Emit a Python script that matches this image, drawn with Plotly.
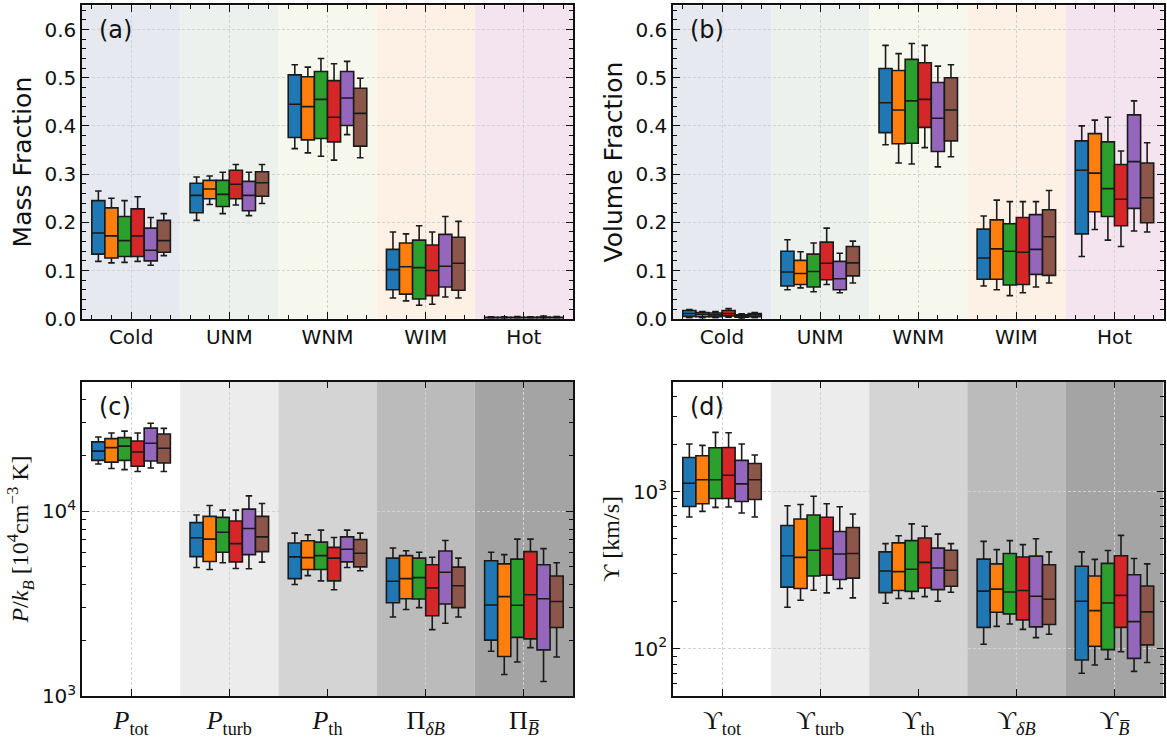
import plotly.graph_objects as go

# ---------------- data ----------------
phases = ["Cold", "UNM", "WNM", "WIM", "Hot"]
p_labels = ["<i>P</i><sub>tot</sub>", "<i>P</i><sub>turb</sub>", "<i>P</i><sub>th</sub>",
            "Π<sub><i>δB</i></sub>", "Π<sub><i>B̅</i></sub>"]
u_labels = ["ϒ<sub>tot</sub>", "ϒ<sub>turb</sub>", "ϒ<sub>th</sub>",
            "ϒ<sub><i>δB</i></sub>", "ϒ<sub><i>B̅</i></sub>"]
series_colors = ["#1f77b4", "#ff7f0e", "#2ca02c", "#d62728", "#9467bd", "#8c564b"]

p_ticks = [1000, 10000]
p_ticktext = ["10<sup>3</sup>", "10<sup>4</sup>"]
u_ticks = [100, 1000]
u_ticktext = ["10<sup>2</sup>", "10<sup>3</sup>"]

# rows = categories, columns = 6 series
mass_lo = [[0.119, 0.116, 0.117, 0.119, 0.111, 0.131],
           [0.204, 0.237, 0.218, 0.236, 0.214, 0.239],
           [0.353, 0.344, 0.337, 0.329, 0.382, 0.334],
           [0.043, 0.037, 0.028, 0.030, 0.045, 0.043],
           [0.0008, 0.0008, 0.0009, 0.0008, 0.0010, 0.0009]]
mass_q1 = [[0.134, 0.126, 0.129, 0.129, 0.120, 0.138],
           [0.220, 0.249, 0.233, 0.249, 0.224, 0.254],
           [0.376, 0.371, 0.374, 0.367, 0.401, 0.358],
           [0.060, 0.051, 0.041, 0.048, 0.066, 0.059],
           [0.0015, 0.0016, 0.0017, 0.0015, 0.0018, 0.0016]]
mass_med = [[0.178, 0.172, 0.162, 0.172, 0.142, 0.162],
            [0.256, 0.269, 0.258, 0.279, 0.256, 0.282],
            [0.445, 0.440, 0.455, 0.418, 0.458, 0.426],
            [0.102, 0.108, 0.106, 0.100, 0.109, 0.115],
            [0.0022, 0.0023, 0.0024, 0.0022, 0.0026, 0.0023]]
mass_q3 = [[0.245, 0.230, 0.212, 0.228, 0.188, 0.204],
           [0.281, 0.287, 0.287, 0.308, 0.285, 0.305],
           [0.506, 0.502, 0.513, 0.494, 0.513, 0.478],
           [0.144, 0.157, 0.163, 0.153, 0.175, 0.169],
           [0.0030, 0.0031, 0.0032, 0.0030, 0.0036, 0.0031]]
mass_hi = [[0.265, 0.250, 0.245, 0.253, 0.210, 0.218],
           [0.294, 0.296, 0.304, 0.320, 0.304, 0.320],
           [0.527, 0.522, 0.540, 0.529, 0.534, 0.499],
           [0.180, 0.176, 0.193, 0.180, 0.212, 0.202],
           [0.0040, 0.0042, 0.0044, 0.0041, 0.0055, 0.0043]]

vol_lo = [[0.002, 0.002, 0.002, 0.003, 0.001, 0.002],
          [0.060, 0.064, 0.056, 0.071, 0.054, 0.074],
          [0.361, 0.323, 0.321, 0.355, 0.315, 0.336],
          [0.068, 0.060, 0.048, 0.054, 0.066, 0.074],
          [0.129, 0.185, 0.163, 0.150, 0.182, 0.180]]
vol_q1 = [[0.005, 0.004, 0.004, 0.006, 0.003, 0.004],
          [0.068, 0.071, 0.066, 0.081, 0.060, 0.089],
          [0.386, 0.363, 0.364, 0.397, 0.347, 0.369],
          [0.082, 0.082, 0.070, 0.071, 0.092, 0.090],
          [0.176, 0.222, 0.212, 0.193, 0.229, 0.199]]
vol_med = [[0.011, 0.009, 0.008, 0.011, 0.006, 0.008],
           [0.097, 0.094, 0.098, 0.115, 0.083, 0.116],
           [0.448, 0.433, 0.452, 0.455, 0.416, 0.433],
           [0.126, 0.145, 0.140, 0.138, 0.144, 0.170],
           [0.308, 0.302, 0.270, 0.248, 0.326, 0.251]]
vol_q3 = [[0.017, 0.013, 0.012, 0.017, 0.008, 0.011],
          [0.140, 0.121, 0.134, 0.159, 0.119, 0.150],
          [0.519, 0.515, 0.538, 0.531, 0.490, 0.500],
          [0.186, 0.205, 0.197, 0.210, 0.216, 0.226],
          [0.369, 0.384, 0.367, 0.320, 0.423, 0.323]]
vol_hi = [[0.019, 0.015, 0.015, 0.021, 0.010, 0.013],
          [0.164, 0.139, 0.157, 0.188, 0.136, 0.161],
          [0.567, 0.550, 0.571, 0.567, 0.524, 0.527],
          [0.213, 0.246, 0.243, 0.243, 0.243, 0.266],
          [0.400, 0.412, 0.418, 0.348, 0.452, 0.365]]

pres_lo = [[17970, 16980, 16750, 16360, 17100, 16360],
           [4960, 4840, 5260, 4900, 4880, 5300],
           [4010, 4480, 4200, 3760, 4960, 4760],
           [2680, 2940, 3010, 2290, 2480, 2680],
           [1750, 1310, 1530, 1830, 1200, 1630]]
pres_q1 = [[18790, 18400, 18790, 17470, 18640, 18190],
           [5680, 5340, 5990, 5320, 5820, 6040],
           [4320, 4840, 4840, 4200, 5320, 5000],
           [3200, 3360, 3350, 2720, 3150, 3010],
           [2010, 1640, 2080, 2040, 1780, 2350]]
pres_med = [[21080, 22030, 22440, 20840, 23270, 21870],
            [7180, 7060, 7690, 6670, 8050, 7260],
            [5660, 5610, 5750, 5570, 6220, 5920],
            [4180, 4320, 4370, 3850, 4670, 3950],
            [3110, 3450, 3100, 3530, 3360, 3250]]
pres_q3 = [[23650, 24620, 24940, 23930, 28070, 26080],
           [8670, 9370, 9250, 8850, 10250, 9370],
           [6720, 6920, 6800, 6370, 7260, 7030],
           [5570, 5750, 5570, 5130, 6090, 4980],
           [5390, 5190, 5500, 6040, 5130, 4460]]
pres_hi = [[25130, 26400, 27050, 26400, 29850, 27990],
           [9530, 10720, 10120, 10120, 12080, 10990],
           [7600, 7450, 7890, 7200, 7890, 7600],
           [6320, 6110, 5990, 5630, 6940, 5570],
           [5990, 5820, 7060, 7060, 6270, 5260]]

ups_lo = [[690, 749, 794, 798, 731, 690],
          [184, 204, 236, 227, 242, 211],
          [195, 209, 209, 215, 201, 229],
          [107, 139, 144, 133, 118, 124],
          [70, 79, 86, 96, 72, 82]]
ups_q1 = [[805, 837, 904, 904, 866, 891],
          [247, 242, 291, 294, 276, 282],
          [228, 235, 232, 244, 238, 250],
          [137, 171, 167, 153, 138, 143],
          [85, 104, 99, 137, 87, 106]]
ups_med = [[1130, 1190, 1190, 1270, 1120, 1190],
           [391, 382, 424, 435, 401, 404],
           [313, 310, 321, 355, 327, 316],
           [233, 240, 230, 235, 216, 207],
           [201, 175, 196, 219, 149, 172]]
ups_q3 = [[1650, 1690, 1900, 1910, 1580, 1510],
          [609, 670, 710, 687, 558, 592],
          [414, 472, 488, 507, 437, 424],
          [372, 347, 404, 384, 389, 343],
          [335, 291, 350, 391, 296, 251]]
ups_hi = [[2010, 1970, 2380, 2370, 2010, 1710],
          [813, 829, 935, 837, 801, 721],
          [467, 524, 624, 603, 537, 467],
          [483, 428, 488, 460, 502, 414],
          [414, 371, 422, 527, 376, 347]]

phase_band_colors = ["#e7e9f1", "#edf1ed", "#f6f7ed", "#fdf1e6", "#f3e4ef"]
gray_band_colors = ["#ffffff", "#ececec", "#d4d4d4", "#bbbbbb", "#a4a4a4"]

# ---------------- figure ----------------
FONT = "DejaVu Sans"
SERIF = "Liberation Serif"
W, H = 1167, 740
n_series = 6
box_w = 0.8 / n_series
offsets = [-0.4 + box_w * (s + 0.5) for s in range(n_series)]

fig = go.Figure()

panels = [
    ("", mass_lo, mass_q1, mass_med, mass_q3, mass_hi),
    ("2", vol_lo, vol_q1, vol_med, vol_q3, vol_hi),
    ("3", pres_lo, pres_q1, pres_med, pres_q3, pres_hi),
    ("4", ups_lo, ups_q1, ups_med, ups_q3, ups_hi),
]

for ax, lo, q1, med, q3, hi in panels:
    ncat = len(lo)
    for s in range(n_series):
        fig.add_trace(go.Box(
            x=[c + offsets[s] for c in range(ncat)],
            lowerfence=[lo[c][s] for c in range(ncat)],
            q1=[q1[c][s] for c in range(ncat)],
            median=[med[c][s] for c in range(ncat)],
            q3=[q3[c][s] for c in range(ncat)],
            upperfence=[hi[c][s] for c in range(ncat)],
            width=box_w,
            whiskerwidth=0.5,
            fillcolor=series_colors[s],
            line=dict(color="#1a1a1a", width=1.6),
            boxpoints=False,
            hoverinfo="skip",
            showlegend=False,
            xaxis="x" + ax, yaxis="y" + ax,
        ))

# background bands
for ax, colors in [("", phase_band_colors), ("2", phase_band_colors),
                   ("3", gray_band_colors), ("4", gray_band_colors)]:
    for i, col in enumerate(colors):
        fig.add_shape(type="rect", xref="x" + ax, yref=("y" + ax + " domain"),
                      x0=i - 0.5, x1=i + 0.5, y0=0, y1=1,
                      fillcolor=col, line=dict(width=0), layer="below")

xdom_l = [82 / W, 573 / W]
xdom_r = [673 / W, 1163.5 / W]
ydom_t = [(H - 324) / H, (H - 5.5) / H]
ydom_b = [(H - 707.7) / H, (H - 388) / H]

common_axis = dict(
    showline=True, linecolor="#111111", linewidth=1.5, mirror="ticks",
    ticks="inside", ticklen=7, tickwidth=1.3, tickcolor="#111111",
    showgrid=True, gridcolor="#d2d2d2", gridwidth=0.8, griddash="3px,2px",
    zeroline=False,
)


def xaxis(dom, anchor, labels, serif):
    d = dict(
        domain=dom, anchor=anchor, range=[-0.5, 4.5],
        tickmode="array", tickvals=list(range(len(labels))), ticktext=labels,
        tickfont=dict(family=SERIF if serif else FONT, size=26 if serif else 20, color="#111"),
        **common_axis,
    )
    if not serif:
        d["minor"] = dict(ticks="inside", ticklen=4, tickwidth=1.1, tickcolor="#111111",
                          tickmode="linear", tick0=0, dtick=0.2, showgrid=False)
    return d


def lin_yaxis(dom, anchor, title):
    return dict(
        domain=dom, anchor=anchor, range=[0, 0.65],
        tickmode="linear", tick0=0, dtick=0.1, tickformat=".1f",
        tickfont=dict(family=FONT, size=20, color="#111"),
        title=dict(text=title, font=dict(family=FONT, size=25, color="#111"), standoff=6),
        minor=dict(ticks="inside", ticklen=4, tickwidth=1.1, tickcolor="#111111",
                   tickmode="linear", tick0=0, dtick=0.02, showgrid=False),
        **common_axis,
    )


def log_yaxis(dom, anchor, title, ticks, ticktext, lo_dec, hi_dec, rng):
    minors = [m * 10 ** d for d in range(lo_dec, hi_dec + 1) for m in range(2, 10)]
    return dict(
        domain=dom, anchor=anchor, type="log", range=rng,
        tickmode="array", tickvals=ticks, ticktext=ticktext,
        tickfont=dict(family=FONT, size=20, color="#111"),
        title=dict(text=title, font=dict(family=SERIF, size=24, color="#111"), standoff=6),
        minor=dict(ticks="inside", ticklen=4, tickwidth=1.1, tickcolor="#111111",
                   tickmode="array", tickvals=minors, showgrid=False),
        **common_axis,
    )


fig.update_layout(
    width=W, height=H,
    margin=dict(l=0, r=0, t=0, b=0),
    paper_bgcolor="white", plot_bgcolor="white",
    boxmode="overlay",
    font=dict(family=FONT, color="#111"),
    xaxis=xaxis(xdom_l, "y", phases, False),
    xaxis2=xaxis(xdom_r, "y2", phases, False),
    xaxis3=xaxis(xdom_l, "y3", p_labels, True),
    xaxis4=xaxis(xdom_r, "y4", u_labels, True),
    yaxis=lin_yaxis(ydom_t, "x", "Mass Fraction"),
    yaxis2=lin_yaxis(ydom_t, "x2", "Volume Fraction"),
    yaxis3=log_yaxis(ydom_b, "x3",
                     "<i>P</i>/<i>k</i><sub><i>B</i></sub> [10<sup>4</sup>cm<sup>−3</sup> K]",
                     p_ticks, p_ticktext, 3, 4, [3, 4.699]),
    yaxis4=log_yaxis(ydom_b, "x4", "ϒ [km/s]", u_ticks, u_ticktext, 1, 3, [1.699, 3.699]),
)

for ax, lab in [("", "(a)"), ("2", "(b)"), ("3", "(c)"), ("4", "(d)")]:
    fig.add_annotation(text=lab, xref="x" + ax + " domain", yref="y" + ax + " domain",
                       x=0.03, y=0.92, xanchor="left", yanchor="middle",
                       showarrow=False, font=dict(family=FONT, size=24, color="#111"))

fig.write_html("out.html", config={"displayModeBar": False})

# remove the default page margin so the figure sits at the window origin
with open("out.html", "r", encoding="utf-8") as f:
    html = f.read()
html = html.replace("<head>", "<head><style>html,body{margin:0;padding:0;overflow:hidden;}</style>", 1)
with open("out.html", "w", encoding="utf-8") as f:
    f.write(html)
